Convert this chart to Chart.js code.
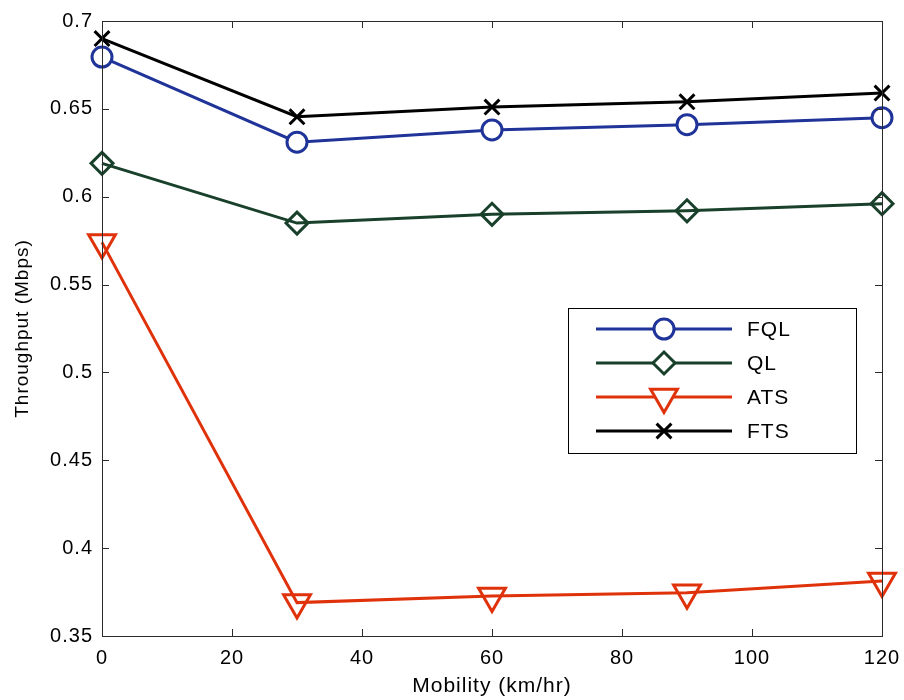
<!DOCTYPE html>
<html>
<head>
<meta charset="utf-8">
<script src="https://cdn.jsdelivr.net/npm/chart.js@4/dist/chart.umd.min.js"></script>
<style>
html, body { margin: 0; padding: 0; background: #fff; }
#wrap { width: 904px; height: 700px; }
</style>
</head>
<body>
<div id="wrap"><canvas id="chart" width="904" height="700"></canvas></div>
<script>
// data
const mobility = [0, 30, 60, 90, 120];
const fql = [0.6795, 0.631, 0.638, 0.641, 0.645];
const ql = [0.619, 0.585, 0.590, 0.592, 0.596];
const ats = [0.574, 0.369, 0.3727, 0.3746, 0.3813];
const fts = [0.690, 0.6455, 0.651, 0.654, 0.659];

const seriesNames = ['FQL', 'QL', 'ATS', 'FTS'];
const xTicks = [0, 20, 40, 60, 80, 100, 120];
const yTicks = [0.35, 0.4, 0.45, 0.5, 0.55, 0.6, 0.65, 0.7];
const yTickLabels = ['0.35', '0.4', '0.45', '0.5', '0.55', '0.6', '0.65', '0.7'];

const FONT = 'Liberation Sans, Arial, sans-serif';

function toPoints(values) {
    return mobility.map((x, i) => ({ x: x, y: values[i] }));
}

// matlab text is a little spread out
const spacingPlugin = {
    id: 'spacing',
    beforeInit(chart) { chart.ctx.letterSpacing = '1px'; },
    beforeDraw(chart) { chart.ctx.letterSpacing = '1px'; }
};

// box with inward ticks, like the matlab axes
const framePlugin = {
    id: 'frame',
    afterDatasetsDraw(chart) {
        const { ctx, chartArea: a, scales } = chart;
        ctx.save();
        ctx.strokeStyle = '#2b2b2b';
        ctx.lineWidth = 1;
        ctx.strokeRect(a.left + 0.5, a.top + 0.5, a.right - a.left, a.bottom - a.top);
        const len = 7;
        ctx.beginPath();
        xTicks.forEach(v => {
            const px = Math.round(scales.x.getPixelForValue(v)) + 0.5;
            ctx.moveTo(px, a.bottom); ctx.lineTo(px, a.bottom - len);
            ctx.moveTo(px, a.top); ctx.lineTo(px, a.top + len);
        });
        yTicks.forEach(v => {
            const py = Math.round(scales.y.getPixelForValue(v)) + 0.5;
            ctx.moveTo(a.left, py); ctx.lineTo(a.left + len, py);
            ctx.moveTo(a.right, py); ctx.lineTo(a.right - len, py);
        });
        ctx.stroke();
        ctx.restore();
    }
};

// legend box with line + marker samples
const legendPlugin = {
    id: 'boxLegend',
    afterDraw(chart) {
        const ctx = chart.ctx;
        const box = { x: 568, y: 308, w: 288, h: 145 };
        ctx.save();
        ctx.fillStyle = '#fff';
        ctx.fillRect(box.x, box.y, box.w, box.h);
        ctx.strokeStyle = '#000';
        ctx.lineWidth = 1;
        ctx.strokeRect(box.x + 0.5, box.y + 0.5, box.w, box.h);
        chart.data.datasets.forEach((ds, i) => {
            const y = 329 + i * 34;
            ctx.strokeStyle = ds.borderColor;
            ctx.lineWidth = ds.borderWidth;
            ctx.beginPath();
            ctx.moveTo(596, y);
            ctx.lineTo(732, y);
            ctx.stroke();
            ctx.fillStyle = '#fff';
            ctx.strokeStyle = ds.pointBorderColor;
            ctx.lineWidth = ds.pointBorderWidth;
            Chart.helpers.drawPoint(ctx, {
                pointStyle: ds.pointStyle,
                radius: ds.pointRadius,
                rotation: ds.pointRotation || 0,
                borderWidth: ds.pointBorderWidth
            }, 664, y);
            ctx.fillStyle = '#000';
            ctx.font = '21px ' + FONT;
            ctx.textBaseline = 'middle';
            ctx.textAlign = 'left';
            ctx.fillText(ds.label, 747, y + 1);
        });
        ctx.restore();
    }
};

const colors = ['#1f3399', '#18402a', '#e0320a', '#000000'];

new Chart(document.getElementById('chart'), {
    type: 'line',
    data: {
        datasets: [
            {
                label: seriesNames[0], data: toPoints(fql),
                borderColor: colors[0], borderWidth: 3,
                pointStyle: 'circle', pointRadius: 10,
                pointBorderColor: colors[0], pointBackgroundColor: '#fff', pointBorderWidth: 3,
                clip: false
            },
            {
                label: seriesNames[1], data: toPoints(ql),
                borderColor: colors[1], borderWidth: 3,
                pointStyle: 'rectRot', pointRadius: 11,
                pointBorderColor: colors[1], pointBackgroundColor: 'rgba(0,0,0,0)', pointBorderWidth: 3,
                clip: false
            },
            {
                label: seriesNames[2], data: toPoints(ats),
                borderColor: colors[2], borderWidth: 3,
                pointStyle: 'triangle', pointRotation: 180, pointRadius: 15.5,
                pointBorderColor: colors[2], pointBackgroundColor: 'rgba(0,0,0,0)', pointBorderWidth: 3,
                clip: false
            },
            {
                label: seriesNames[3], data: toPoints(fts),
                borderColor: colors[3], borderWidth: 3,
                pointStyle: 'crossRot', pointRadius: 10.5,
                pointBorderColor: colors[3], pointBackgroundColor: '#fff', pointBorderWidth: 3,
                clip: false
            }
        ]
    },
    options: {
        responsive: false,
        animation: false,
        layout: { padding: { top: 21, right: 22, left: 0, bottom: 0 } },
        plugins: {
            legend: { display: false },
            tooltip: { enabled: false }
        },
        elements: { line: { tension: 0 } },
        scales: {
            x: {
                type: 'linear',
                min: 0, max: 120,
                afterBuildTicks: s => { s.ticks = xTicks.map(v => ({ value: v })); },
                afterFit: s => { s.height = 64; s.paddingLeft = 0; s.paddingRight = 0; },
                grid: { display: false, drawTicks: false },
                border: { display: false },
                ticks: { color: '#000', font: { family: FONT, size: 20 }, padding: 10, maxRotation: 0 },
                title: { display: true, text: 'Mobility (km/hr)', color: '#000', font: { family: FONT, size: 21 }, padding: { top: 0, bottom: 1 } }
            },
            y: {
                min: 0.35, max: 0.7,
                afterBuildTicks: s => { s.ticks = yTicks.map(v => ({ value: v })); },
                afterFit: s => { s.width = 102; s.paddingTop = 0; s.paddingBottom = 0; },
                grid: { display: false, drawTicks: false },
                border: { display: false },
                ticks: {
                    color: '#000', font: { family: FONT, size: 20 }, padding: 9,
                    callback: (v, i) => yTickLabels[i]
                },
                title: { display: true, text: 'Throughput (Mbps)', color: '#000', font: { family: FONT, size: 19 }, padding: { top: 11, bottom: 0 } }
            }
        }
    },
    plugins: [spacingPlugin, framePlugin, legendPlugin]
});
</script>
</body>
</html>
